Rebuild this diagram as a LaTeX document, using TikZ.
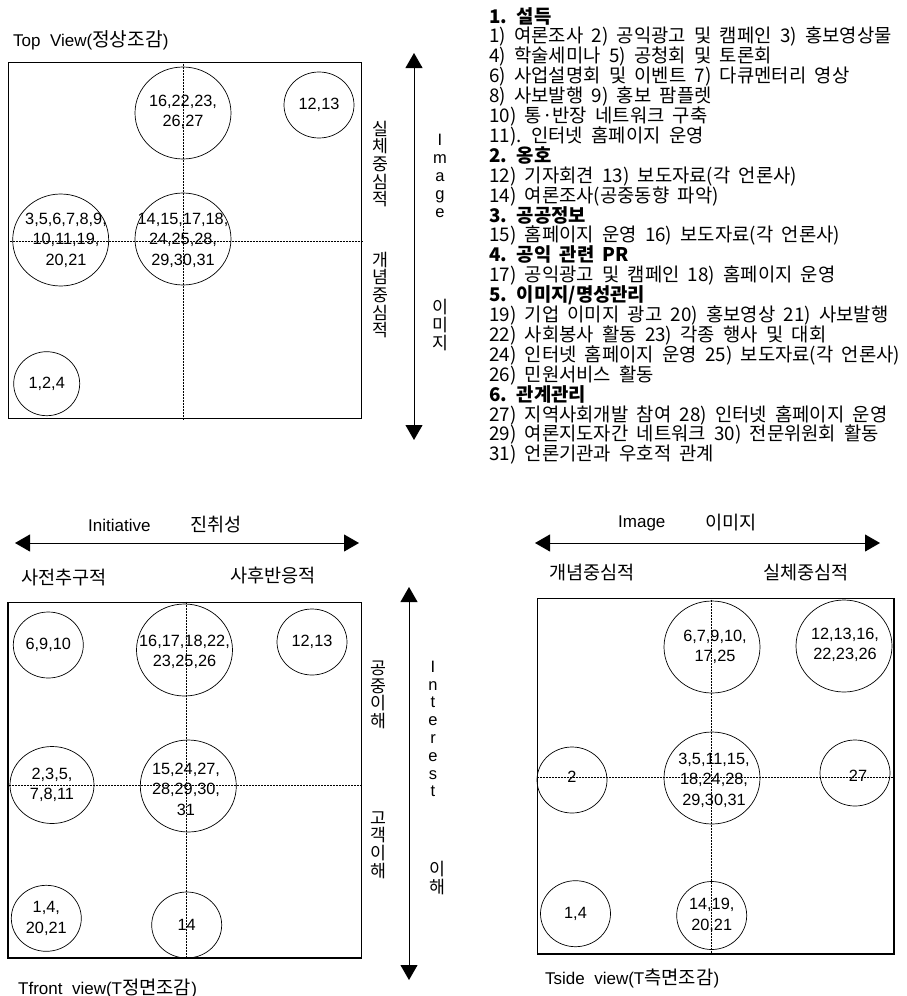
\documentclass[tikz,border=0pt]{standalone}
\usepackage{fontspec}
\setmainfont{Liberation Sans}
\newfontfamily\kr{Noto Sans CJK KR}
\usetikzlibrary{shapes.geometric,arrows.meta}
\tikzset{
  bx/.style={draw, line width=1.2pt, inner sep=0pt},
  grid/.style={densely dotted, line width=0.5pt},
  bub/.style={draw, ellipse, line width=0.7pt, inner sep=0pt},
  num/.style={align=center, inner sep=0pt, font=\fontsize{16.3}{20.5}\selectfont},
  axis/.style={line width=0.9pt, {Triangle[width=17pt,length=15pt]}-{Triangle[width=17pt,length=15pt]}},
  ttl/.style={anchor=west, inner sep=0pt, font=\fontsize{17}{20}\selectfont},
  kl/.style={anchor=west, inner sep=0pt, font=\kr\fontsize{18.6}{20}\selectfont},
  vk/.style={align=center, inner sep=0pt, font=\kr\fontsize{17.3}{17.6}\selectfont},
  vl/.style={align=center, inner sep=0pt, font=\fontsize{16.5}{17.8}\selectfont},
}
\begin{document}
\begin{tikzpicture}[x=1pt,y=-1pt]
\useasboundingbox (0,0) rectangle (907,996);

% ---------------- Top view ----------------
\node[ttl] (tvtitle) at (13,40) {Top\ \ View({\kr\fontsize{19.2}{20}\selectfont 정상조감})};
\node[bx, minimum width=353pt, minimum height=356pt, anchor=north west] (TV) at (8,62) {};
\coordinate (tvc) at (183,241);
\draw[grid] (tvc |- TV.north) -- (tvc |- TV.south);
\draw[grid] (tvc -| TV.west) -- (tvc -| TV.east);

\node[bub, minimum width=96pt, minimum height=92pt] (tv1) at (183,113) {};
\node[num] (tv1t) at (183,112) {16,22,23,\\26,27};
\node[bub, minimum width=70pt, minimum height=66pt] (tv2) at (319,105) {};
\node[num] (tv2t) at (tv2) {12,13};
\node[bub, minimum width=96pt, minimum height=92pt] (tv3) at (60.7,240) {};
\node[num] (tv3t) at (66,240) {3,5,6,7,8,9,\\10,11,19,\\20,21};
\node[bub, minimum width=96pt, minimum height=92pt] (tv4) at (183,239) {};
\node[num] (tv4t) at (183,240) {14,15,17,18,\\24,25,28,\\29,30,31};
\node[bub, minimum width=66pt, minimum height=64pt] (tv5) at (46.7,383.7) {};
\node[num] (tv5t) at (tv5) {1,2,4};

\node[vk] (tvr1) at (380,164) {실\\체\\중\\심\\적};
\node[vk] (tvr2) at (380,295) {개\\념\\중\\심\\적};
\coordinate (tva1) at (414,53);
\coordinate (tva2) at (414,440);
\draw[axis] (tva1) -- (tva2);
\node[vl] (tvimg) at (440,176) {I\\m\\a\\g\\e};
\node[vk] (tvimk) at (440,325) {이\\미\\지};

% ---------------- List ----------------
\node[anchor=north west, inner sep=0pt, align=left, font={\kr\fontsize{18.8}{19.9}\selectfont\spaceskip=8.3pt\relax\lineskiplimit=-50pt\lineskip=0pt\relax}] (list) at (489,7) {%
\textbf{1. 설득}\\
1) 여론조사 2) 공익광고 및 캠페인 3) 홍보영상물\\
4) 학술세미나 5) 공청회 및 토론회\\
6) 사업설명회 및 이벤트 7) 다큐멘터리 영상\\
8) 사보발행 9) 홍보 팜플렛\\
10) 통·반장 네트워크 구축\\
11). 인터넷 홈페이지 운영\\
\textbf{2. 옹호}\\
12) 기자회견 13) 보도자료(각 언론사)\\
14) 여론조사(공중동향 파악)\\
\textbf{3. 공공정보}\\
15) 홈페이지 운영 16) 보도자료(각 언론사)\\
\textbf{4. 공익 관련 PR}\\
17) 공익광고 및 캠페인 18) 홈페이지 운영\\
\textbf{5. 이미지/명성관리}\\
19) 기업 이미지 광고 20) 홍보영상 21) 사보발행\\
22) 사회봉사 활동 23) 각종 행사 및 대회\\
24) 인터넷 홈페이지 운영 25) 보도자료(각 언론사)\\
26) 민원서비스 활동\\
\textbf{6. 관계관리}\\
27) 지역사회개발 참여 28) 인터넷 홈페이지 운영\\
29) 여론지도자간 네트워크 30) 전문위원회 활동\\
31) 언론기관과 우호적 관계};

% ---------------- Front view ----------------
\node[ttl] (fvini) at (88,525) {Initiative};
\node[kl] (fvinik) at (190,525) {진취성};
\coordinate (fva1) at (15,543);
\coordinate (fva2) at (359,543);
\draw[axis] (fva1) -- (fva2);
\node[kl] (fvl) at (21,578) {사전추구적};
\node[kl] (fvr) at (230,575) {사후반응적};
\node[bx, minimum width=353.4pt, minimum height=355.6pt, anchor=north west] (FV) at (7.3,601.7) {};
\coordinate (fvc) at (186.7,785);
\draw[grid] (fvc |- FV.north) -- (fvc |- FV.south);
\draw[grid] (fvc -| FV.west) -- (fvc -| FV.east);

\node[bub, minimum width=70pt, minimum height=66pt] (fv1) at (48.3,645) {};
\node[num] (fv1t) at (fv1) {6,9,10};
\node[bub, minimum width=96pt, minimum height=92pt] (fv2) at (184.5,650) {};
\node[num] (fv2t) at (184.5,652) {16,17,18,22,\\23,25,26};
\node[bub, minimum width=70pt, minimum height=66pt] (fv3) at (312,642) {};
\node[num] (fv3t) at (fv3) {12,13};
\node[bub, minimum width=84pt, minimum height=77pt] (fv4) at (52,785) {};
\node[num] (fv4t) at (52,785) {2,3,5,\\7,8,11};
\node[bub, minimum width=96pt, minimum height=92pt] (fv5) at (188.3,786) {};
\node[num] (fv5t) at (186,789) {15,24,27,\\28,29,30,\\31};
\node[bub, minimum width=70pt, minimum height=66pt] (fv6) at (46.3,918.3) {};
\node[num] (fv6t) at (46.3,918.3) {1,4,\\20,21};
\node[bub, minimum width=70pt, minimum height=66pt] (fv7) at (186.7,925) {};
\node[num] (fv7t) at (fv7) {14};

\node[vk] (fvr1) at (378,695) {공\\중\\이\\해};
\node[vk] (fvr2) at (378,845) {고\\객\\이\\해};
\coordinate (fvb1) at (409,587);
\coordinate (fvb2) at (409,980);
\draw[axis] (fvb1) -- (fvb2);
\node[vl] (fvint) at (433,729) {I\\n\\t\\e\\r\\e\\s\\t};
\node[vk] (fvintk) at (437,878) {이\\해};
\node[ttl] (fvtitle) at (18,988) {Tfront\ \ view(T{\kr\fontsize{18.8}{20}\selectfont 정면조감})};

% ---------------- Side view ----------------
\node[ttl] (svimg) at (618,523) {Image};
\node[kl] (svimgk) at (705,523) {이미지};
\coordinate (sva1) at (535,543);
\coordinate (sva2) at (880,543);
\draw[axis] (sva1) -- (sva2);
\node[kl] (svl) at (549,573) {개념중심적};
\node[kl] (svr) at (763,573) {실체중심적};
\node[bx, minimum width=356.6pt, minimum height=355.3pt, anchor=north west] (SV) at (536.7,598) {};
\coordinate (svc) at (711.7,777.3);
\draw[grid] (svc |- SV.north) -- (svc |- SV.south);
\draw[grid] (svc -| SV.west) -- (svc -| SV.east);

\node[bub, minimum width=96pt, minimum height=92pt] (sv1) at (712,647) {};
\node[num] (sv1t) at (715,647) {6,7,9,10,\\17,25};
\node[bub, minimum width=96pt, minimum height=92pt] (sv2) at (844,646) {};
\node[num] (sv2t) at (845,645) {12,13,16,\\22,23,26};
\node[bub, minimum width=70pt, minimum height=66pt] (sv3) at (572,780) {};
\node[num] (sv3t) at (572,777) {2};
\node[bub, minimum width=96pt, minimum height=92pt] (sv4) at (712,778) {};
\node[num] (sv4t) at (714,780) {3,5,11,15,\\18,24,28,\\29,30,31};
\node[bub, minimum width=70pt, minimum height=66pt] (sv5) at (855,773) {};
\node[num] (sv5t) at (858,776) {27};
\node[bub, minimum width=70pt, minimum height=66pt] (sv6) at (575.5,913.7) {};
\node[num] (sv6t) at (sv6) {1,4};
\node[bub, minimum width=70pt, minimum height=68pt] (sv7) at (711.7,915.5) {};
\node[num] (sv7t) at (711.7,915.5) {14,19,\\20,21};
\node[ttl] (svtitle) at (545,978) {Tside\ \ view(T{\kr\fontsize{18.8}{20}\selectfont 측면조감})};
\end{tikzpicture}
\end{document}
